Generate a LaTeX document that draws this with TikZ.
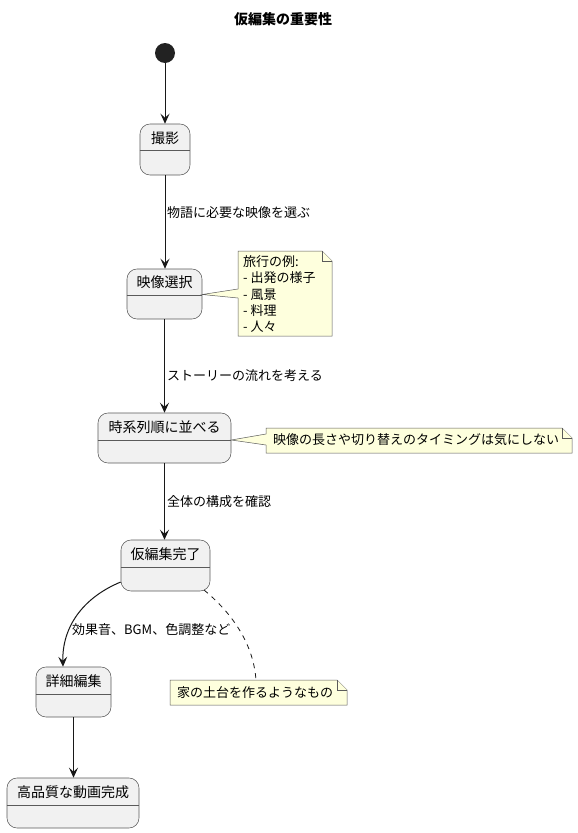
\documentclass[tikz,border=0pt]{standalone}
\usepackage{fontspec}
\newfontfamily\cjk{Noto Sans CJK JP}
\usetikzlibrary{arrows.meta}
\definecolor{boxfill}{HTML}{F1F1F1}
\definecolor{linec}{HTML}{181818}
\definecolor{boxline}{HTML}{5A5A5A}
\definecolor{notefill}{HTML}{FEFFDD}
\definecolor{initc}{HTML}{222222}
\newcommand\mynote[4]{%
  \filldraw[notestyle] (#1,#2) -- ({#3-10},#2) -- (#3,{#2+10}) -- (#3,#4) -- (#1,#4) -- cycle;
  \draw[notestyle] ({#3-10},#2) -- ({#3-10},{#2+10}) -- (#3,{#2+10});}
\begin{document}
\begin{tikzpicture}[x=1pt,y=-1pt,
  statebox/.style={draw=boxline, fill=boxfill, rounded corners=10pt, line width=0.55pt, inner sep=0},
  stext/.style={font=\cjk\fontsize{14}{16}\selectfont, inner sep=0},
  lbl/.style={font=\cjk\fontsize{13}{15}\selectfont, inner sep=0, anchor=west},
  ntext/.style={font=\cjk\fontsize{13}{16.2}\selectfont, inner sep=0, anchor=west, align=left},
  arr/.style={draw=linec, line width=1pt, -{Stealth[length=10pt,width=9pt,inset=4pt]}},
  notestyle/.style={draw=boxline, fill=notefill, line width=0.5pt, line join=miter},
  divline/.style={draw=boxline, line width=0.55pt}]
\useasboundingbox (0,0) rectangle (578,833);
\fill[white] (0,0) rectangle (578,833);

% title
\node[font=\cjk\bfseries\fontsize{14}{16}\selectfont, inner sep=0] (title) at (283,19) {仮編集の重要性};

% initial state
\node[circle, fill=initc, minimum size=20pt, inner sep=0] (init) at (165,53) {};

% states
\node[statebox, minimum width=50pt, minimum height=51pt] (s1) at (165,149.5) {};
\node[stext] (s1t) at (165,138) {撮影};
\draw[divline] (s1.west |- 0,150) -- (s1.east |- 0,150);

\node[statebox, minimum width=75pt, minimum height=50pt] (s2) at (164.5,294) {};
\node[stext] (s2t) at (164.5,282) {映像選択};
\draw[divline] (s2.west |- 0,295) -- (s2.east |- 0,295);

\node[statebox, minimum width=133pt, minimum height=50pt] (s3) at (164.5,438) {};
\node[stext] (s3t) at (164.5,427) {時系列順に並べる};
\draw[divline] (s3.west |- 0,440) -- (s3.east |- 0,440);

\node[statebox, minimum width=89pt, minimum height=51pt] (s4) at (165.5,565.5) {};
\node[stext] (s4t) at (165.5,554) {仮編集完了};
\draw[divline] (s4.west |- 0,567) -- (s4.east |- 0,567);

\node[statebox, minimum width=75pt, minimum height=50pt] (s5) at (73.5,692) {};
\node[stext] (s5t) at (73.5,681) {詳細編集};
\draw[divline] (s5.west |- 0,694) -- (s5.east |- 0,694);

\node[statebox, minimum width=132pt, minimum height=50pt] (s6) at (73,803) {};
\node[stext] (s6t) at (73,792) {高品質な動画完成};
\draw[divline] (s6.west |- 0,805) -- (s6.east |- 0,805);

% transitions
\draw[arr] (init.south) -- (s1.north);
\draw[arr] (s1.south) -- (s1.south |- s2.north);
\node[lbl] (l1) at (167,213) {物語に必要な映像を選ぶ};
\draw[arr] (s2.south) -- (s2.south |- s3.north);
\node[lbl] (l2) at (167,376) {ストーリーの流れを考える};
\draw[arr] (s3.south) -- (s3.south |- s4.north);
\node[lbl] (l3) at (167,502) {全体の構成を確認};
\draw[arr] (s4.west |- 0,582) .. controls (82,598) and (62,628) .. (s5.north -| 63,0);
\node[lbl] (l4) at (72,630) {効果音、BGM、色調整など};
\draw[arr] (s5.south) -- (s5.south |- s6.north);

% note 1
\filldraw[notestyle] (238,251) -- (322,251) -- (332,261) -- (332,336) -- (238,336) -- (238,298) -- (s2.east |- 0,294.5) -- (238,289) -- cycle;
\draw[notestyle] (322,251) -- (322,261) -- (332,261);
\node[ntext] (n1) at (243,294) {旅行の例:\\- 出発の様子\\- 風景\\- 料理\\- 人々};

% note 2
\filldraw[notestyle] (266,428) -- (562,428) -- (572,438) -- (572,453) -- (266,453) -- (266,445) -- (s3.east |- 0,440) -- (266,434) -- cycle;
\draw[notestyle] (562,428) -- (562,438) -- (572,438);
\node[ntext] (n2) at (273,440) {映像の長さや切り替えのタイミングは気にしない};

% note 3
\mynote{170}{680}{347}{705}
\node[ntext] (n3) at (177,692.5) {家の土台を作るようなもの};
\coordinate (d1) at (204,590);
\coordinate (d2) at (256,680);
\draw[draw=linec, line width=0.8pt, dash pattern=on 5pt off 5pt] (d1) .. controls (238,618) and (254,650) .. (d2);
\end{tikzpicture}
\end{document}
